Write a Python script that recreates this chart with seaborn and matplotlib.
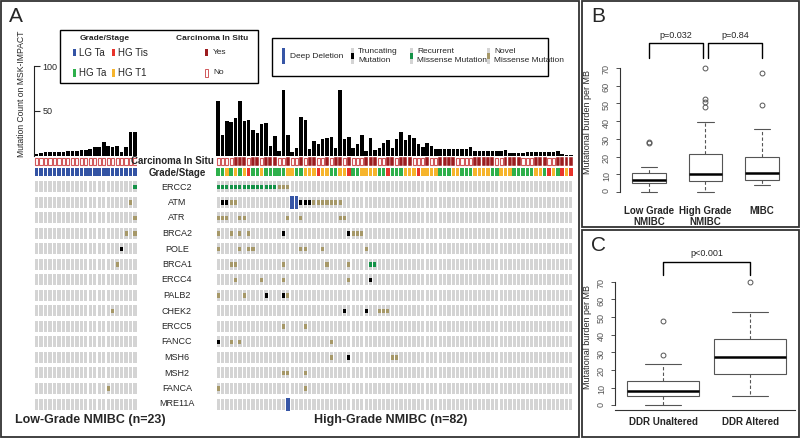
import matplotlib
matplotlib.use("Agg")
import matplotlib.pyplot as plt
from matplotlib.patches import Rectangle
import seaborn as sns
import pandas as pd

# ---------------- data ----------------
genes = ["ERCC2", "ATM", "ATR", "BRCA2", "POLE", "BRCA1", "ERCC4", "PALB2",
         "CHEK2", "ERCC5", "FANCC", "MSH6", "MSH2", "FANCA", "MRE11A"]

# mutation counts per patient (MSK-IMPACT)
lg_counts = [2, 3, 4, 4, 5, 5, 5, 6, 6, 6, 7, 7, 8, 10, 10, 16, 11, 10, 11, 5, 10, 27, 27]
hg_counts = [61, 23, 39, 38, 42, 61, 39, 40, 29, 26, 36, 37, 11, 22, 6, 73, 23, 5, 9, 43,
             40, 8, 17, 13, 19, 20, 21, 9, 73, 19, 21, 9, 13, 23, 6, 20, 7, 9, 14, 18,
             9, 19, 27, 18, 23, 20, 13, 10, 15, 11, 8, 8, 8, 8, 8, 8, 8, 8, 10, 6,
             6, 6, 6, 6, 6, 6, 7, 3, 3, 3, 3, 4, 4, 4, 4, 5, 5, 5, 6, 2,
             1, 1]

# carcinoma in situ (Y/N) and grade/stage (L=LG Ta, G=HG Ta, O=HG T1, R=HG Tis)
lg_cis = "N" * 23
lg_grade = "L" * 23
hg_cis = ("NNNNYYYNYY" "NYYYNNYNNY" "NYYNNYNYYN" "YNNNYYYNNY" "YNYYYNNNYN"
          "NYYYYNNNNY" "YYYYNNYYYY" "NNNYYYNNYY" "YY")
hg_grade = ("GGOGOGORGG" "OGGGGGOOGG" "OOOROOGGOO" "RGGOOOOGGR" "GGGOOOROOO"
            "OGGGOOGGGO" "OOOGGOOOGG" "GGGOOGROGR" "OR")

# alterations: gene -> patient column
lg_novel = {"ATM": [21], "ATR": [22], "BRCA2": [20, 22], "BRCA1": [18],
            "CHEK2": [17], "FANCA": [16]}
lg_trunc = {"POLE": [19]}
lg_recurrent = {"ERCC2": [22]}
lg_deletion = {}

hg_novel = {"ERCC2": [14, 15, 16], "ATM": [3, 4, 22, 23, 24, 25, 26, 27, 28],
            "ATR": [0, 1, 2, 5, 6, 16, 19, 28, 29], "BRCA2": [0, 3, 5, 7, 31, 32, 33],
            "POLE": [0, 5, 7, 8, 19, 20, 24, 34], "BRCA1": [3, 4, 15, 25, 30],
            "ERCC4": [4, 10, 15, 30], "PALB2": [0, 6, 16], "CHEK2": [37, 38, 39],
            "ERCC5": [15, 20], "FANCC": [3, 5, 26], "MSH6": [26, 40, 41],
            "MSH2": [15, 16, 20], "FANCA": [0, 20]}
hg_trunc = {"ATM": [1, 2, 19, 20, 21], "BRCA2": [15, 30], "ERCC4": [35],
            "PALB2": [11, 15], "CHEK2": [29, 34], "FANCC": [0], "MSH6": [30]}
hg_recurrent = {"ERCC2": list(range(14)), "BRCA1": [35, 36]}
hg_deletion = {"ATM": [17, 18], "MRE11A": [16]}

# panel B / C mutational burden per MB
b_groups = ["Low Grade\nNMIBC", "High Grade\nNMIBC", "MIBC"]
b_low = [0, 5, 5, 5, 6, 7, 7, 8, 10.5, 10.5, 14, 27.5, 28.5]
b_high = [0, 2, 4, 5, 6, 6, 7, 8, 9, 9.5, 10, 12, 15, 18, 20, 21.5, 39.5, 48, 51, 52.5, 70]
b_mibc = [4, 5, 6, 7, 8, 9, 10.5, 13, 16, 19.5, 35.5, 49, 67]
c_groups = ["DDR Unaltered", "DDR Altered"]
c_unaltered = [0, 2, 4, 5, 6, 7, 8, 10, 12, 14, 23.5, 28.5, 48]
c_altered = [5, 12, 17.5, 22, 27.5, 33, 37.5, 53, 70]

# ---------------- style ----------------
W, H = 800, 438
sns.set_style("white")
plt.rcParams["font.family"] = ["Liberation Sans", "DejaVu Sans"]

GRAY = "#d4d4d4"
TAN = "#a69868"
GREEN_MUT = "#139247"
BLUE = "#3756a6"
CIS_YES = "#9c1c1f"
CIS_NO = "#d0575a"
grade_colors = {"L": "#3353a4", "G": "#2eb04b", "O": "#f6b42c", "R": "#e8332b"}

fig = plt.figure(figsize=(W / 100, H / 100), dpi=100)


def px_axes(x0, y0, x1, y1):
    return fig.add_axes([x0 / W, 1 - y1 / H, (x1 - x0) / W, (y1 - y0) / H])


def ftext(x, y, s, **kw):
    fig.text(x / W, 1 - y / H, s, **kw)


def frect(x0, y0, x1, y1, **kw):
    fig.patches.append(Rectangle((x0 / W, 1 - y1 / H), (x1 - x0) / W, (y1 - y0) / H,
                                 transform=fig.transFigure, **kw))


def draw_counts(x0, x1, counts):
    ax = px_axes(x0, 60, x1, 156)
    n = len(counts)
    sns.barplot(x=list(range(n)), y=counts, color="black", width=0.8,
                errorbar=None, saturation=1, linewidth=0, ax=ax)
    ax.set_xlim(-0.5, n - 0.5)
    ax.set_ylim(0, 96 / 0.9)
    ax.set_xticks([])
    ax.set_xlabel("")
    ax.set_ylabel("")
    ax.set_yticks([])
    for s in ax.spines.values():
        s.set_visible(False)
    return ax


def draw_matrix(x0, x1, cis, grade, novel, trunc, recur, dele):
    n = len(cis)
    ax = px_axes(x0, 155, x1, 412)
    ax.set_xlim(-0.5, n - 0.5)
    ax.set_ylim(412, 155)
    ax.axis("off")
    cols = list(range(n))
    yes = [c for c in cols if cis[c] == "Y"]
    no = [c for c in cols if cis[c] == "N"]
    ax.bar(yes, 8.5, bottom=161.5 - 4.25, width=0.9, color=CIS_YES, edgecolor="white", linewidth=0.3)
    ax.bar(no, 7.5, bottom=161.5 - 3.75, width=0.72, color="white", edgecolor=CIS_NO, linewidth=0.8)
    for code, colr in grade_colors.items():
        idx = [c for c in cols if grade[c] == code]
        ax.bar(idx, 8, bottom=168, width=0.8, color=colr, linewidth=0)
    for i, g in enumerate(genes):
        yc = 187 + 15.5 * i
        ax.bar(cols, 11, bottom=yc - 5.5, width=0.75, color=GRAY, linewidth=0)
        ax.bar(dele.get(g, []), 13, bottom=yc - 6.5, width=0.85, color=BLUE, linewidth=0)
        for d, colr in [(novel, TAN), (trunc, "black"), (recur, GREEN_MUT)]:
            ax.bar(d.get(g, []), 4.5, bottom=yc - 2.25, width=0.7, color=colr, linewidth=0)
    return ax


# ---------------- panel A ----------------
ax_lc = draw_counts(34.3, 137.3, lg_counts)
ax_lc.spines["left"].set_visible(True)
ax_lc.spines["left"].set_color("#222222")
ax_lc.spines["left"].set_linewidth(0.8)
ax_lc.spines["left"].set_bounds(0, 100)
ax_lc.set_yticks([50, 100])
ax_lc.tick_params(axis="y", left=True, direction="in", length=4, width=0.8,
                  pad=-6, labelsize=6.5)
for lbl in ax_lc.get_yticklabels():
    lbl.set_horizontalalignment("left")
draw_counts(216, 573, hg_counts)

draw_matrix(34.3, 137.3, lg_cis, lg_grade, lg_novel, lg_trunc, lg_recurrent, lg_deletion)
draw_matrix(216, 573, hg_cis, hg_grade, hg_novel, hg_trunc, hg_recurrent, hg_deletion)

ftext(22, 94, "Mutation Count on MSK-IMPACT", rotation=90, ha="center", va="center", fontsize=6.2)
ftext(214, 161.5, "Carcinoma In Situ", ha="right", va="center", fontsize=7, fontweight="bold")
ftext(177, 172.5, "Grade/Stage", ha="center", va="center", fontsize=7, fontweight="bold")
for i, g in enumerate(genes):
    ftext(177, 187 + 15.5 * i, g, ha="center", va="center", fontsize=6.5)

ftext(15, 420, "Low-Grade NMIBC (n=23)", ha="left", va="center", fontsize=9, fontweight="bold")
ftext(391, 420, "High-Grade NMIBC (n=82)", ha="center", va="center", fontsize=9, fontweight="bold")

# legend 1
frect(60, 30, 258, 83, fill=False, ec="black", lw=1.0)
ftext(105, 38, "Grade/Stage", ha="center", va="center", fontsize=6, fontweight="bold")
ftext(212, 38, "Carcinoma In Situ", ha="center", va="center", fontsize=6, fontweight="bold")
for (x, y, code, lab) in [(73, 52.5, "L", "LG Ta"), (112, 52.5, "R", "HG Tis"),
                          (73, 73, "G", "HG Ta"), (112, 73, "O", "HG T1")]:
    frect(x, y - 3.5, x + 2.5, y + 3.5, color=grade_colors[code], lw=0)
    ftext(x + 6, y, lab, ha="left", va="center", fontsize=7)
frect(205, 49, 208, 56, color=CIS_YES, lw=0)
ftext(213, 52.5, "Yes", ha="left", va="center", fontsize=6)
frect(205, 69.5, 208, 76.5, fill=False, ec=CIS_NO, lw=0.7)
ftext(213, 73, "No", ha="left", va="center", fontsize=6)

# legend 2
frect(272, 38, 548, 76, fill=False, ec="black", lw=1.0)
frect(282, 48, 285, 64, color=BLUE, lw=0)
ftext(290, 56, "Deep Deletion", ha="left", va="center", fontsize=6)
for (x, colr, lab) in [(351, "black", "Truncating\nMutation"),
                       (410, GREEN_MUT, "Recurrent\nMissense Mutation"),
                       (487, TAN, "Novel\nMissense Mutation")]:
    frect(x, 48, x + 3, 64, color=GRAY, lw=0)
    frect(x, 53, x + 3, 59, color=colr, lw=0)
    ftext(x + 7, 56, lab, ha="left", va="center", fontsize=6, linespacing=1.3)

ftext(9, 16, "A", ha="left", va="center", fontsize=15)

# ---------------- panel B ----------------
box_kw = dict(color="white", linecolor="#555555", linewidth=0.8, fliersize=3.5,
              whiskerprops={"linestyle": (0, (3, 2))},
              medianprops={"color": "black", "linewidth": 1.8},
              flierprops={"marker": "o", "markerfacecolor": "none",
                          "markeredgecolor": "#555555", "markeredgewidth": 0.7})

b_df = pd.DataFrame({
    "group": [b_groups[0]] * len(b_low) + [b_groups[1]] * len(b_high) + [b_groups[2]] * len(b_mibc),
    "burden": b_low + b_high + b_mibc,
})
axB = px_axes(620, 60, 790, 196)
sns.boxplot(data=b_df, x="group", y="burden", order=b_groups, width=0.6, ax=axB, **box_kw)
axB.set_xlim(-0.513, 2.496)
axB.set_ylim(-2.26, 74.5)
axB.set_xlabel("")
axB.set_ylabel("")
for s in ["top", "right", "bottom"]:
    axB.spines[s].set_visible(False)
axB.spines["left"].set_bounds(0, 70)
axB.spines["left"].set_color("#333333")
axB.spines["left"].set_linewidth(0.8)
axB.set_yticks(range(0, 71, 10))
axB.tick_params(axis="y", left=True, length=3, width=0.6, labelsize=6.5,
                labelrotation=90, labelcolor="#555555", color="#333333")
axB.tick_params(axis="x", length=0, pad=7)
for lbl in axB.get_xticklabels():
    lbl.set_fontweight("bold")
    lbl.set_fontsize(7)
axB.plot([0, 0, 0.956, 0.956], [75.7, 84.1, 84.1, 75.7], color="black", lw=1, clip_on=False)
axB.plot([1.044, 1.044, 2, 2], [75.7, 84.1, 84.1, 75.7], color="black", lw=1, clip_on=False)
axB.text(0.48, 88.6, "p=0.032", ha="center", va="center", fontsize=6.5)
axB.text(1.52, 88.6, "p=0.84", ha="center", va="center", fontsize=6.5)
ftext(587, 122, "Mutational burden per MB", rotation=90, ha="center", va="center", fontsize=6.5)
ftext(591, 17, "B", ha="left", va="center", fontsize=15)

# ---------------- panel C ----------------
c_df = pd.DataFrame({
    "group": [c_groups[0]] * len(c_unaltered) + [c_groups[1]] * len(c_altered),
    "burden": c_unaltered + c_altered,
})
axC = px_axes(615, 270, 795, 410)
sns.boxplot(data=c_df, x="group", y="burden", order=c_groups, width=0.83, ax=axC, **box_kw)
axC.set_xlim(-0.552, 1.517)
axC.set_ylim(-2.66, 76.6)
axC.set_xlabel("")
axC.set_ylabel("")
for s in ["top", "right"]:
    axC.spines[s].set_visible(False)
for s in ["left", "bottom"]:
    axC.spines[s].set_color("#333333")
    axC.spines[s].set_linewidth(0.8)
axC.spines["left"].set_bounds(0, 70)
axC.set_yticks(range(0, 71, 10))
axC.tick_params(axis="y", left=True, length=3, width=0.6, labelsize=6.5,
                labelrotation=90, labelcolor="#555555", color="#333333")
axC.tick_params(axis="x", length=0, pad=5)
for lbl in axC.get_xticklabels():
    lbl.set_fontweight("bold")
    lbl.set_fontsize(7)
axC.plot([0, 0, 1, 1], [73.8, 81.3, 81.3, 73.8], color="black", lw=1, clip_on=False)
axC.text(0.5, 85.7, "p<0.001", ha="center", va="center", fontsize=6.5)
ftext(587, 337, "Mutational burden per MB", rotation=90, ha="center", va="center", fontsize=6.5)
ftext(591, 245, "C", ha="left", va="center", fontsize=15)

# panel frames
frect(1, 1, 579, 437, fill=False, ec="#333333", lw=1.3)
frect(582, 1, 799, 227, fill=False, ec="#333333", lw=1.3)
frect(582, 230, 799, 437, fill=False, ec="#333333", lw=1.3)

fig.savefig("out.png", dpi=100)
